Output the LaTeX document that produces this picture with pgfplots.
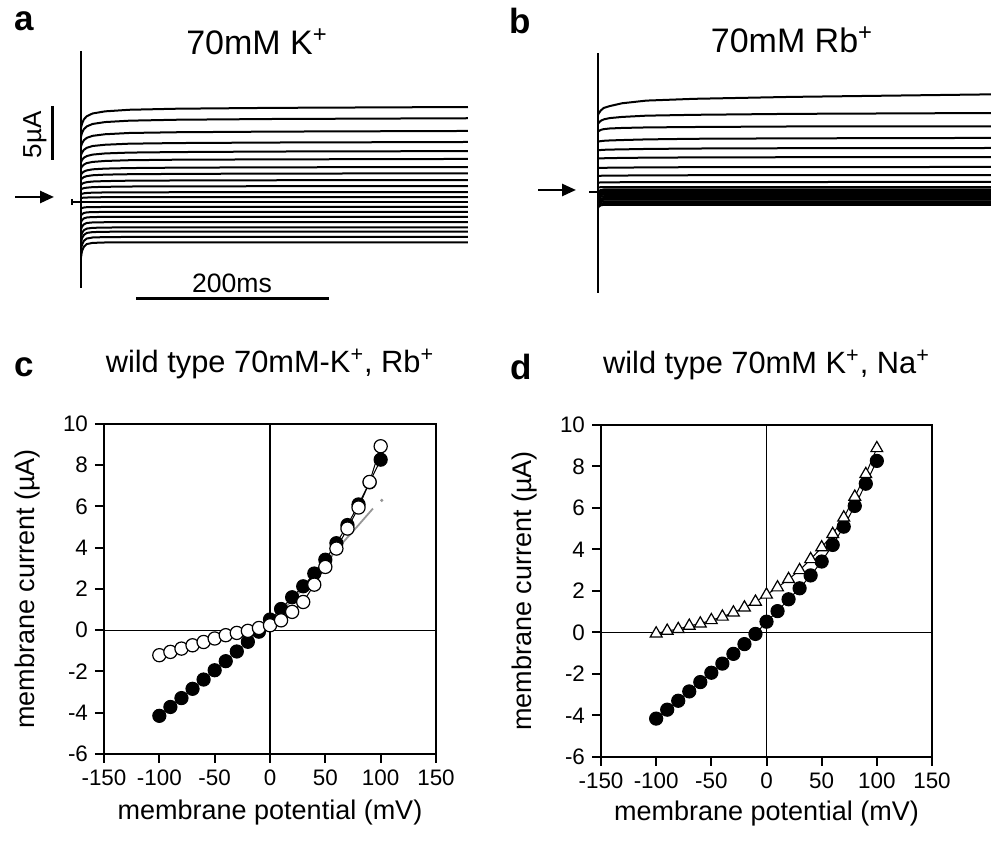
\documentclass[border=0pt]{standalone}
\usepackage{fontspec}
\setmainfont{Liberation Sans}
\usepackage{pgfplots}
\pgfplotsset{compat=1.18}
\usepackage{pgfplotstable}
\usetikzlibrary{arrows.meta}

\definecolor{fitgray}{RGB}{150,150,150}

% current traces, 70mM K+ (t in ms, current in uA), steps -100..+100 mV top to bottom reversed
\pgfplotstableread{
t   k1   k2   k3   k4   k5   k6   k7   k8   k9   k10  k11  k12  k13 k14   k15   k16   k17   k18   k19   k20   k21
0   6.99 6.16 5.23 4.41 3.74 3.17 2.57 2.11 1.61 1.17 0.73 0.37 0   -0.64 -1.29 -1.92 -2.60 -3.29 -3.84 -4.52 -5.21
1   7.38 6.51 5.52 4.66 3.96 3.35 2.72 2.22 1.71 1.24 0.77 0.39 0   -0.57 -1.15 -1.71 -2.32 -2.93 -3.42 -4.03 -4.64
3   7.80 6.87 5.83 4.92 4.18 3.53 2.87 2.35 1.80 1.31 0.82 0.41 0   -0.52 -1.04 -1.55 -2.11 -2.66 -3.11 -3.66 -4.22
6   8.09 7.13 6.05 5.11 4.33 3.67 2.98 2.44 1.87 1.35 0.85 0.42 0   -0.49 -0.98 -1.46 -1.98 -2.51 -2.92 -3.45 -3.97
12  8.35 7.36 6.24 5.28 4.47 3.78 3.08 2.52 1.93 1.40 0.88 0.44 0   -0.48 -0.95 -1.42 -1.93 -2.44 -2.84 -3.35 -3.86
25  8.55 7.54 6.39 5.40 4.58 3.87 3.15 2.58 1.97 1.43 0.90 0.45 0   -0.47 -0.94 -1.41 -1.91 -2.41 -2.81 -3.31 -3.82
50  8.70 7.67 6.51 5.50 4.66 3.94 3.20 2.62 2.01 1.46 0.91 0.46 0   -0.47 -0.94 -1.40 -1.90 -2.40 -2.80 -3.30 -3.80
100 8.80 7.76 6.58 5.56 4.71 3.99 3.24 2.65 2.03 1.47 0.92 0.46 0   -0.47 -0.94 -1.40 -1.90 -2.40 -2.80 -3.30 -3.80
200 8.88 7.83 6.64 5.61 4.76 4.02 3.27 2.68 2.05 1.49 0.93 0.47 0   -0.47 -0.94 -1.40 -1.90 -2.40 -2.80 -3.30 -3.80
401 8.96 7.90 6.70 5.66 4.80 4.06 3.30 2.70 2.07 1.50 0.94 0.47 0   -0.47 -0.94 -1.40 -1.90 -2.40 -2.80 -3.30 -3.80
}\tracesK

% current traces, 70mM Rb+
\pgfplotstableread{
t   k1   k2   k3   k4   k5   k6   k7   k8   k9   k10  k11   k12   k13   k14   k15   k16   k17   k18   k19   k20   k21
0   7.26 6.42 5.69 4.75 3.93 3.15 2.26 1.52 0.89 0.44 -0.06 -0.19 -0.33 -0.43 -0.54 -0.70 -0.87 -1.03 -1.19 -1.35 -1.51
1   7.45 6.55 5.76 4.77 3.95 3.16 2.27 1.53 0.89 0.44 0.09  -0.04 -0.18 -0.28 -0.39 -0.55 -0.72 -0.88 -1.04 -1.20 -1.36
3   7.70 6.72 5.86 4.80 3.96 3.17 2.28 1.53 0.90 0.45 0.19  0.06  -0.08 -0.18 -0.29 -0.45 -0.62 -0.78 -0.94 -1.10 -1.26
6   7.93 6.85 5.93 4.83 3.98 3.18 2.28 1.54 0.90 0.45 0.24  0.11  -0.03 -0.13 -0.24 -0.40 -0.57 -0.73 -0.89 -1.05 -1.21
12  8.10 6.97 5.99 4.86 4.00 3.20 2.29 1.54 0.91 0.45 0.24  0.11  -0.03 -0.13 -0.24 -0.40 -0.57 -0.73 -0.89 -1.05 -1.21
25  8.37 7.08 6.04 4.90 4.02 3.21 2.30 1.55 0.92 0.46 0.24  0.11  -0.03 -0.13 -0.24 -0.40 -0.57 -0.73 -0.89 -1.05 -1.21
50  8.62 7.20 6.09 4.96 4.06 3.24 2.32 1.57 0.93 0.46 0.24  0.11  -0.03 -0.13 -0.24 -0.40 -0.57 -0.73 -0.89 -1.05 -1.21
100 8.79 7.28 6.13 5.02 4.10 3.26 2.34 1.58 0.94 0.47 0.24  0.11  -0.03 -0.13 -0.24 -0.40 -0.57 -0.73 -0.89 -1.05 -1.21
200 8.97 7.37 6.18 5.06 4.13 3.28 2.35 1.59 0.94 0.47 0.24  0.11  -0.03 -0.13 -0.24 -0.40 -0.57 -0.73 -0.89 -1.05 -1.21
407 9.21 7.45 6.20 5.10 4.15 3.30 2.36 1.60 0.95 0.47 0.24  0.11  -0.03 -0.13 -0.24 -0.40 -0.57 -0.73 -0.89 -1.05 -1.21
}\tracesRb

% steady-state I-V (mV, uA)
\pgfplotstableread{
mv    k     rb     na
-100  -4.15 -1.21  -0.05
-90   -3.72 -1.05  0.08
-80   -3.29 -0.89  0.16
-70   -2.84 -0.73  0.32
-60   -2.39 -0.57  0.43
-50   -1.94 -0.40  0.59
-40   -1.50 -0.24  0.76
-30   -1.03 -0.13  0.96
-20   -0.56 -0.03  1.20
-10   -0.07 0.11   1.48
0     0.52  0.24   1.82
10    1.03  0.48   2.17
20    1.60  0.89   2.57
30    2.13  1.37   3.00
40    2.75  2.21   3.53
50    3.42  3.07   4.10
60    4.22  3.96   4.74
70    5.10  4.93   5.54
80    6.10  5.95   6.54
90    7.17  7.19   7.63
100   8.27  8.92   8.88
}\iv

\pgfplotsset{
  trax/.style={scale only axis, hide axis, clip=false, ymin=-10, ymax=15, xmin=-70},
  ivax/.style={scale only axis, clip=false,
    xmin=-150, xmax=150, ymin=-6, ymax=10,
    xtick={-150,-100,...,150}, ytick={-6,-4,...,10},
    tick pos=left, tick align=outside, major tick length=4.5pt,
    axis line style={line width=1pt}, tick style={black, line width=1pt},
    ticklabel style={font=\fontsize{11.2}{13}\selectfont},
    /pgf/number format/assume math mode=true,
    label style={font=\fontsize{13.5}{16}\selectfont},
    xlabel={membrane potential (mV)}, ylabel={membrane current (µA)},
    title style={font=\fontsize{15.4}{18}\selectfont, anchor=center}},
}
\tikzset{
  trace/.style={black, line width=1pt},
  lett/.style={font=\fontsize{17.5}{20}\selectfont\bfseries},
  arr/.style={line width=1.3pt, -{Triangle[length=7pt, width=6pt]}},
}

\begin{document}
\begin{tikzpicture}
\useasboundingbox (0,0) rectangle (495.5pt,424.5pt);

% a: K+ traces
\begin{axis}[trax, at={(6.725pt,270.5pt)}, anchor=south west,
  width=227.27pt, height=132.5pt, xmax=401]
\addplot[black, line width=0.9pt] coordinates {(0,14.25) (0,-8.1)};
\pgfplotsinvokeforeach{1,...,21}{
  \addplot[trace] table[x=t, y=k#1] {\tracesK};
}
\end{axis}

% b: Rb+ traces
\begin{axis}[trax, at={(265.225pt,275.5pt)}, anchor=south west,
  width=230.15pt, height=132.5pt, xmax=407]
\addplot[black, line width=0.9pt] coordinates {(0,13.1) (0,-9.5)};
\pgfplotsinvokeforeach{1,...,21}{
  \addplot[trace] table[x=t, y=k#1] {\tracesRb};
}
\end{axis}

% c: K+ and Rb+ I-V
\begin{axis}[ivax, at={(52pt,47.5pt)}, anchor=south west, width=166pt, height=165pt,
  xlabel style={at={(axis description cs:0.5,-0.176)}, anchor=center},
  ylabel style={at={(axis description cs:-0.229,0.5)}, anchor=center},
  title={wild type 70mM-K\textsuperscript{+}, Rb\textsuperscript{+}},
  title style={at={(axis description cs:0.5,1.145)}}]
\addplot[black, line width=0.7pt] coordinates {(0,-6) (0,10)};
\addplot[black, line width=0.7pt] coordinates {(-150,0) (150,0)};
\addplot[black, line width=0.5pt, mark=*, mark size=3.3pt,
  mark options={fill=black, draw=black}] table[x=mv, y=k] {\iv};
\addplot[black, line width=0.5pt, mark=*, mark size=3.3pt,
  mark options={fill=white, draw=black, line width=0.6pt}] table[x=mv, y=rb] {\iv};
\addplot[fitgray, line width=0.9pt] coordinates {
  (-101,-4.15) (-50,-1.95) (-20,-0.55) (0,0.4) (20,1.45) (40,2.6) (60,3.9) (80,5.1) (93,5.9)};
\addplot[fitgray, only marks, mark=*, mark size=0.6pt] coordinates {(101,6.3)};
\end{axis}

% d: K+ and Na+ I-V
\begin{axis}[ivax, at={(300.5pt,46pt)}, anchor=south west, width=165.5pt, height=166pt,
  xlabel style={at={(axis description cs:0.5,-0.17)}, anchor=center},
  ylabel style={at={(axis description cs:-0.23,0.5)}, anchor=center},
  title={wild type 70mM K\textsuperscript{+}, Na\textsuperscript{+}},
  title style={at={(axis description cs:0.5,1.145)}}]
\addplot[black, line width=0.7pt] coordinates {(0,-6) (0,10)};
\addplot[black, line width=0.7pt] coordinates {(-150,0) (150,0)};
\addplot[black, line width=0.5pt, mark=*, mark size=3.3pt,
  mark options={fill=black, draw=black}] table[x=mv, y=k] {\iv};
\addplot[black, line width=0.5pt, mark=triangle*, mark size=3.4pt,
  mark options={fill=white, draw=black, line width=0.6pt}] table[x=mv, y=na] {\iv};
\end{axis}

% panel letters, titles, scale bars and markers
\node[lett] at (12pt,414pt) {a};
\node[lett] at (260pt,414pt) {b};
\node[lett] at (12pt,241pt) {c};
\node[lett] at (260.5pt,241pt) {d};
\node[font=\fontsize{17}{20}\selectfont] at (128.5pt,403.5pt) {70mM K\textsuperscript{+}};
\node[font=\fontsize{17}{20}\selectfont] at (396pt,404.5pt) {70mM Rb\textsuperscript{+}};
\draw[line width=1.5pt] (26pt,371.5pt) -- (26pt,344.5pt);
\node[rotate=90, font=\fontsize{13}{15}\selectfont] at (17.5pt,357pt) {5µA};
\draw[line width=1.5pt] (68pt,275pt) -- (164.5pt,275pt);
\node[font=\fontsize{13.3}{16}\selectfont] at (116pt,283pt) {200ms};
\draw[arr] (7.5pt,326pt) -- (27pt,326pt);
\draw[arr] (269pt,329.5pt) -- (288pt,329.5pt);
\draw[line width=0.9pt] (36pt,323.5pt) -- (40.5pt,323.5pt) (36pt,325pt) -- (36pt,322pt);
\draw[line width=0.9pt] (294.5pt,328.5pt) -- (299pt,328.5pt);
\end{tikzpicture}
\end{document}
